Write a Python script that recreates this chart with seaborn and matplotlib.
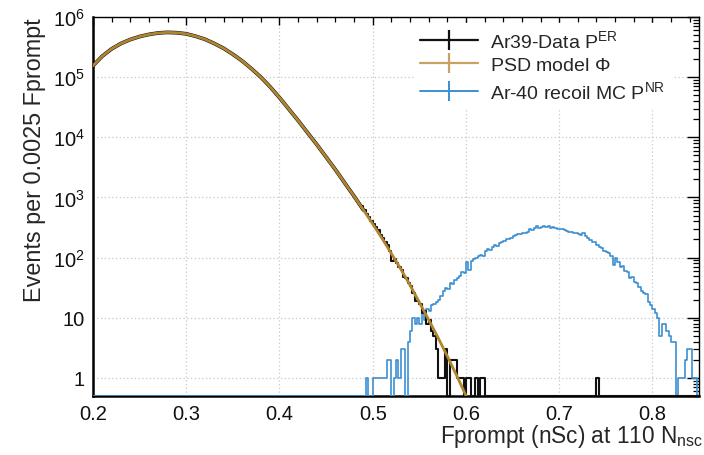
import numpy as np
import pandas as pd
import matplotlib
matplotlib.use("Agg")
import matplotlib.pyplot as plt
from matplotlib.lines import Line2D
import seaborn as sns

# ---------------- data ----------------
BIN = 0.0025

# PSD model Phi (smooth curve), read every 0.01 in Fprompt
model_x = [0.20, 0.21, 0.22, 0.23, 0.24, 0.25, 0.26, 0.27, 0.28, 0.29,
           0.30, 0.31, 0.32, 0.33, 0.34, 0.35, 0.36, 0.37, 0.38, 0.39,
           0.40, 0.41, 0.42, 0.43, 0.44, 0.45, 0.46, 0.47, 0.48, 0.49,
           0.50, 0.51, 0.52, 0.53, 0.54, 0.55, 0.56, 0.57, 0.58, 0.59, 0.60]
model_y = [155000, 224000, 295000, 363000, 422000, 473000, 513000, 543000, 555000, 547000,
           525000, 479000, 427000, 363000, 302000, 240000, 186000, 138000, 100000, 69000,
           45700, 29500, 19000, 12000, 7600, 4700, 2900, 1740, 1050, 620,
           363, 209, 117, 65, 35, 18, 9.3, 4.7, 2.3, 1.1, 0.51]

# Ar39 data, bulk region (lies on the model curve up to 0.49)
data_bulk_x = model_x[:30]
data_bulk_y = model_y[:30]

# Ar39 data, per-bin counts in the tail, bins starting at 0.4875
data_tail_start = 0.4875
data_tail = [720, 630, 540, 480, 410, 360, 320, 285, 240, 210,
             185, 160, 130, 88, 95, 80, 70, 62, 48, 45,
             38, 34, 26, 19, 19, 17, 12, 13, 8, 9,
             6, 5, 3, 1, 1, 1, 3, 0, 2, 2,
             2, 1, 1, 1, 0, 1, 1, 0, 0, 1,
             0, 1, 1, 0, 0, 0, 0, 0, 0, 0,
             0, 0, 0, 0, 0, 0, 0, 0, 0, 0,
             0, 0, 0, 0, 0, 0, 0, 0, 0, 0,
             0, 0, 0, 0, 0, 0, 0, 0, 0, 0,
             0, 0, 0, 0, 0, 0, 0, 0, 0, 0,
             0, 1, 0, 0, 0, 0, 0, 0, 0, 0,
             0, 0, 0, 0, 0, 0, 0, 0, 0, 0,
             0, 0, 0, 0, 0, 0, 0, 0, 0, 0,
             0, 0, 0, 0, 0, 0, 0, 0, 0, 0,
             0, 0, 0, 0, 0]

# Ar-40 recoil MC (nuclear recoils), per-bin counts, bins starting at 0.49
nr_counts = [0, 1, 0, 0, 1, 1, 1, 1, 1, 1,
             2, 2, 0, 1, 2, 1, 3, 3, 0, 4,
             6, 10, 8, 10, 8, 12, 9, 14, 13, 16,
             17, 18, 20, 23, 28, 31, 30, 38, 36, 42,
             46, 50, 58, 55, 85, 62, 88, 95, 100, 105,
             112, 108, 130, 140, 135, 150, 160, 155, 175, 185,
             190, 205, 200, 215, 225, 235, 245, 250, 255, 260,
             270, 300, 290, 315, 330, 305, 325, 335, 320, 330,
             315, 320, 305, 300, 295, 300, 285, 275, 270, 265,
             255, 260, 245, 235, 255, 230, 210, 195, 185, 180,
             165, 150, 145, 130, 125, 120, 105, 75, 100, 85,
             70, 72, 60, 58, 45, 48, 40, 38, 32, 28,
             26, 25, 18, 16, 14, 12, 10, 5, 8, 8,
             6, 5, 4, 4, 0, 1, 1, 1, 2, 3,
             3, 1, 1, 0]
nr_zero_before = [0] * 116   # 0.20 - 0.49: empty bins

legend_labels = [r"Ar39-Data P$^{ER}$", r"PSD model $\Phi$", r"Ar-40 recoil MC P$^{NR}$"]
x_ticks = [0.2, 0.3, 0.4, 0.5, 0.6, 0.7, 0.8]
y_ticks = [1, 10, 1e2, 1e3, 1e4, 1e5, 1e6]
y_ticklabels = ["1", "10", r"$10^{2}$", r"$10^{3}$", r"$10^{4}$", r"$10^{5}$", r"$10^{6}$"]

# ---------------- style ----------------
sns.set_theme(style="white")
plt.rcParams["font.family"] = ["Liberation Sans", "DejaVu Sans"]
plt.rcParams["mathtext.fontset"] = "custom"
plt.rcParams["mathtext.rm"] = "Liberation Sans"
plt.rcParams["mathtext.it"] = "Liberation Sans:italic"
plt.rcParams["mathtext.default"] = "regular"

C_BLACK = "#111111"
C_BROWN = "#b0852f"
C_BLUE = "#3d8fd2"
YMIN = 0.5

fig = plt.figure(figsize=(7.04, 4.56), dpi=100)
ax = fig.add_axes([93 / 704, 1 - 397 / 456, (699 - 93) / 704, (397 - 18) / 456])


def step_frame(start, counts):
    counts = np.asarray(counts, dtype=float)
    edges = start + BIN * np.arange(len(counts) + 1)
    y = np.append(counts, counts[-1])
    y = np.clip(y, YMIN, None)   # empty bins drawn on the frame bottom (as ROOT does)
    return pd.DataFrame({"x": edges, "y": y})


# NR MC histogram
nr_df = step_frame(0.2, nr_zero_before + nr_counts)
sns.lineplot(data=nr_df, x="x", y="y", ax=ax, color=C_BLUE, lw=1.2,
             drawstyle="steps-post", estimator=None, sort=False, zorder=3)

# Ar39 data: bulk (under the model) and tail histogram
bulk_df = pd.DataFrame({"x": data_bulk_x, "y": data_bulk_y})
sns.lineplot(data=bulk_df, x="x", y="y", ax=ax, color=C_BLACK, lw=2.7,
             estimator=None, sort=False, zorder=4)
tail_df = step_frame(data_tail_start, data_tail)
sns.lineplot(data=tail_df, x="x", y="y", ax=ax, color=C_BLACK, lw=1.5,
             drawstyle="steps-post", estimator=None, sort=False, zorder=4)

# PSD model
model_df = pd.DataFrame({"x": model_x, "y": model_y})
sns.lineplot(data=model_df, x="x", y="y", ax=ax, color=C_BROWN, lw=2.0,
             estimator=None, sort=False, zorder=5)

# ---------------- axes ----------------
ax.set_yscale("log")
ax.set_xlim(0.2, 0.85)
ax.set_ylim(YMIN, 1e6)
ax.set_xticks(x_ticks)
ax.set_xticklabels([f"{v:.1f}" for v in x_ticks])
ax.set_xticks(np.arange(0.2, 0.851, 0.02), minor=True)
ax.set_yticks(y_ticks)
ax.set_yticklabels(y_ticklabels)
ax.yaxis.set_minor_locator(matplotlib.ticker.LogLocator(base=10, subs=np.arange(2, 10), numticks=20))
ax.yaxis.set_minor_formatter(matplotlib.ticker.NullFormatter())

ax.grid(True, which="major", color="#c8c8c8", linestyle=(0, (1, 2)), lw=0.9)
ax.set_axisbelow(True)

for s in ax.spines.values():
    s.set_color("black")
    s.set_linewidth(1.0)
ax.spines["left"].set_linewidth(1.8)
ax.spines["bottom"].set_linewidth(1.8)

ax.tick_params(axis="both", which="both", direction="in", top=True, right=True,
               color="black", labelsize=14.5, labelcolor="#111111")
ax.tick_params(axis="x", which="major", length=6, width=1.0, pad=6)
ax.tick_params(axis="x", which="minor", length=3.5, width=0.9)
ax.tick_params(axis="y", which="major", length=9, width=1.0, pad=6)
ax.tick_params(axis="y", which="minor", length=4.5, width=0.9)

ax.set_xlabel(r"Fprompt (nSc) at 110 N$_{nsc}$", fontsize=16.3, loc="right")
ax.xaxis.set_label_coords(1.007, -0.068)
ax.set_ylabel("Events per 0.0025 Fprompt", fontsize=16.8, loc="top", labelpad=5)

# ---------------- legend ----------------
handles = [Line2D([0], [0], color=c, lw=lw, marker="|", markersize=15, markeredgewidth=lw)
           for c, lw in [(C_BLACK, 1.6), ("#c9a163", 1.6), (C_BLUE, 1.4)]]
leg = ax.legend(handles, legend_labels, loc="upper left",
                bbox_to_anchor=(414 / 704, 1 - 24 / 456), bbox_transform=fig.transFigure,
                fontsize=14, frameon=True, fancybox=False, framealpha=1,
                edgecolor="white", facecolor="white", handlelength=3.0,
                handletextpad=0.6, labelspacing=0.3, borderpad=0.3, borderaxespad=0)
leg.set_zorder(10)

fig.savefig("out.png", dpi=100)
